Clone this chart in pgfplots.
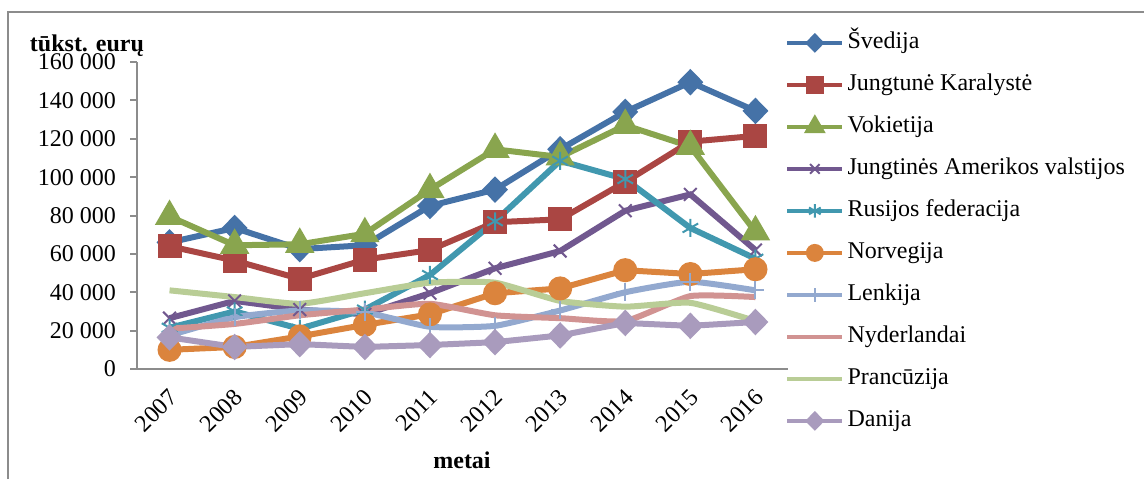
\documentclass[border=0pt]{standalone}
\usepackage{fontspec}
\setmainfont{Liberation Serif}
\usepackage{pgfplots}
\pgfplotsset{compat=1.18}
\definecolor{cSve}{HTML}{4572A7}
\definecolor{cJK}{HTML}{AA4643}
\definecolor{cVok}{HTML}{89A54E}
\definecolor{cUSA}{HTML}{71588F}
\definecolor{cRus}{HTML}{4198AF}
\definecolor{cNor}{HTML}{DB843D}
\definecolor{cLen}{HTML}{93A9CF}
\definecolor{cNyd}{HTML}{D19392}
\definecolor{cPra}{HTML}{B9CD96}
\definecolor{cDan}{HTML}{A99BBD}
\definecolor{axgray}{HTML}{8C8C8C}
\begin{document}
\begin{tikzpicture}
\path[use as bounding box] (0pt,0pt) rectangle (572pt,-239.5pt);
\draw[axgray, line width=1pt] (4pt,-239.5pt) -- (4pt,-6pt) -- (572pt,-6pt);
\begin{axis}[
  scale only axis,
  width=325.5pt, height=153.5pt,
  at={(68.5pt,-184.5pt)}, anchor=south west,
  xmin=-0.5, xmax=9.5, ymin=0, ymax=160000,
  axis lines*=left,
  axis line style={axgray, line width=1pt},
  tick style={axgray, line width=1pt},
  tick align=outside,
  font=\fontsize{12}{14}\selectfont,
  scaled y ticks=false,
  xtick={0,...,9},
  xticklabels={2007,2008,2009,2010,2011,2012,2013,2014,2015,2016},
  x tick style={draw=none},
  extra x ticks={-0.5,0.5,...,9.5},
  extra x tick labels={},
  extra x tick style={x tick style={axgray, line width=1pt}, major tick length=3pt},
  xticklabel style={xshift=-1pt, yshift=-1pt, rotate=45, anchor=north east},
  ytick={0,20000,...,160000},
  yticklabels={0,20 000,40 000,60 000,80 000,100 000,120 000,140 000,160 000},
  yticklabel style={xshift=-3.5pt},
  major tick length=3.5pt,
  legend style={at={(axis description cs:0.995,1.101)}, anchor=north west,
    draw=none, fill=none, inner sep=0pt, row sep=9.5pt, column sep=1.5pt,
    nodes={inner sep=0pt, text height=8.5pt, text depth=3pt},
    font=\fontsize{12}{14}\selectfont},
  legend cell align=left,
  legend image code/.code={\draw[mark repeat=2,mark phase=2,#1, line width=2.2pt, every mark/.append style={scale=0.75}] plot coordinates {(0pt,0pt) (13.75pt,0pt) (27.5pt,0pt)};},
]
\addplot[cSve, line width=3pt, mark=diamond*, mark size=4.5pt, mark options={solid, fill=cSve, xscale=1.3}] coordinates {
(0,66000)(1,73500)(2,62500)(3,64500)(4,85000)(5,93500)(6,114500)(7,134000)(8,149500)(9,134500)};
\addlegendentry{Švedija}
\addplot[cJK, line width=3pt, mark=square*, mark size=4.5pt, mark options={solid, fill=cJK}] coordinates {
(0,64000)(1,56500)(2,47000)(3,57000)(4,62000)(5,76500)(6,78000)(7,97500)(8,118500)(9,121500)};
\addlegendentry{Jungtunė Karalystė}
\addplot[cVok, line width=3pt, mark=triangle*, mark size=5.5pt, mark options={solid, fill=cVok}] coordinates {
(0,79500)(1,64500)(2,65000)(3,70500)(4,93500)(5,114500)(6,110500)(7,127000)(8,116000)(9,71500)};
\addlegendentry{Vokietija}
\addplot[cUSA, line width=3pt, mark=x, mark size=4.5pt, mark options={solid, line width=1pt}] coordinates {
(0,26500)(1,35500)(2,31000)(3,28500)(4,39500)(5,52500)(6,61500)(7,82500)(8,91000)(9,62000)};
\addlegendentry{Jungtinės Amerikos valstijos}
\addplot[cRus, line width=3pt, mark=asterisk, mark size=4.5pt, mark options={solid, line width=1pt}] coordinates {
(0,21500)(1,30000)(2,21000)(3,31000)(4,49000)(5,77000)(6,108500)(7,99000)(8,73500)(9,57500)};
\addlegendentry{Rusijos federacija}
\addplot[cNor, line width=3pt, mark=*, mark size=4.5pt, mark options={solid, fill=cNor}] coordinates {
(0,10000)(1,11500)(2,17000)(3,23000)(4,28500)(5,39500)(6,42000)(7,51500)(8,49500)(9,52000)};
\addlegendentry{Norvegija}
\addplot[cLen, line width=3pt, smooth, tension=0.3, mark=+, mark size=4.5pt, mark options={solid, line width=1pt}] coordinates {
(0,17500)(1,27000)(2,30500)(3,29500)(4,22000)(5,22500)(6,30500)(7,40000)(8,45500)(9,41000)};
\addlegendentry{Lenkija}
\addplot[cNyd, line width=3pt, smooth, tension=0.3] coordinates {
(0,21000)(1,23500)(2,28000)(3,31000)(4,34000)(5,28000)(6,26500)(7,25000)(8,38000)(9,37500)};
\addlegendentry{Nyderlandai}
\addplot[cPra, line width=3pt, smooth, tension=0.3] coordinates {
(0,41000)(1,37500)(2,34000)(3,39500)(4,45000)(5,45000)(6,35500)(7,32500)(8,34500)(9,25000)};
\addlegendentry{Prancūzija}
\addplot[cDan, line width=3pt, mark=diamond*, mark size=4.5pt, mark options={solid, fill=cDan, xscale=1.3}] coordinates {
(0,16500)(1,11500)(2,13000)(3,11500)(4,12500)(5,14000)(6,17500)(7,24000)(8,22500)(9,24500)};
\addlegendentry{Danija}
\end{axis}
\node[font=\bfseries\fontsize{12}{14}\selectfont] at (43.5pt,-23pt) {tūkst. eurų};
\node[font=\bfseries\fontsize{12}{14}\selectfont] at (231pt,-230pt) {metai};
\end{tikzpicture}
\end{document}
